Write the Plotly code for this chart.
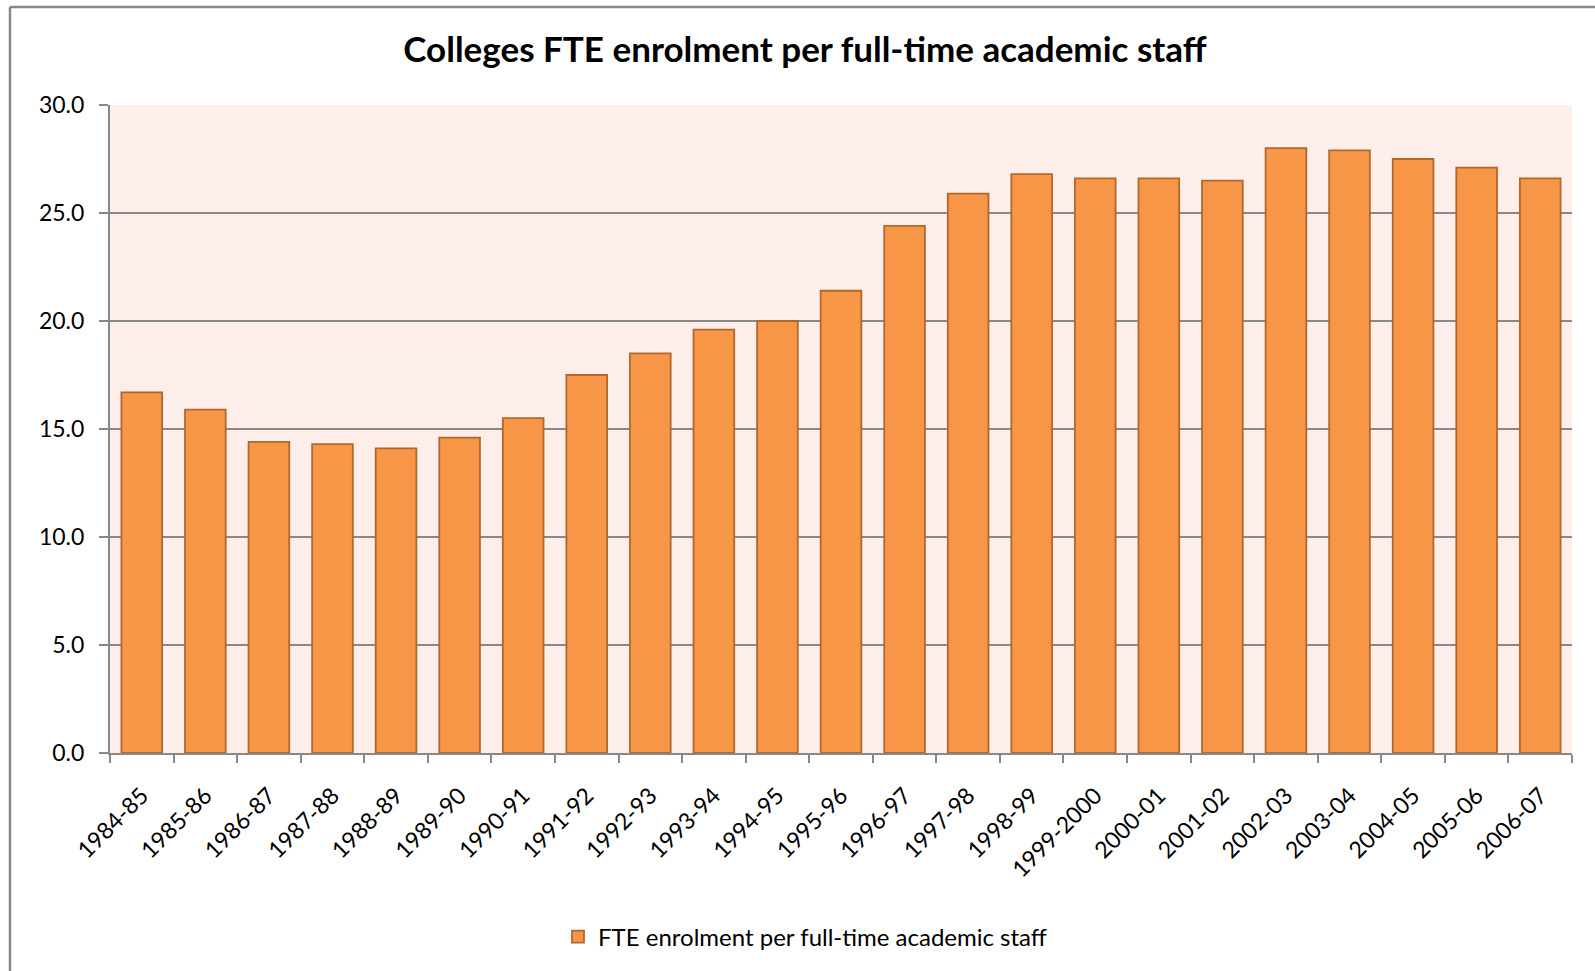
import plotly.graph_objects as go

categories = ["1984-85", "1985-86", "1986-87", "1987-88", "1988-89", "1989-90",
              "1990-91", "1991-92", "1992-93", "1993-94", "1994-95", "1995-96",
              "1996-97", "1997-98", "1998-99", "1999-2000", "2000-01", "2001-02",
              "2002-03", "2003-04", "2004-05", "2005-06", "2006-07"]
values = [16.7, 15.9, 14.4, 14.3, 14.1, 14.6, 15.5, 17.5, 18.5, 19.6, 20.0, 21.4,
          24.4, 25.9, 26.8, 26.6, 26.6, 26.5, 28.0, 27.9, 27.5, 27.1, 26.6]
y_ticks = [0, 5, 10, 15, 20, 25, 30]
y_tick_labels = ["0.0", "5.0", "10.0", "15.0", "20.0", "25.0", "30.0"]
series_name = "FTE enrolment per full-time academic staff"
title_text = "Colleges FTE enrolment per full-time academic staff"

W, H = 1595, 971
L, R, T, B = 110, 23, 105, 218
pw, ph = W - L - R, H - T - B

fig = go.Figure()
fig.add_trace(go.Bar(
    x=categories, y=values, name=series_name,
    marker=dict(color="#F79646", line=dict(color="#B0682C", width=1.8)),
    showlegend=True,
))

font_family = "Lato, 'Open Sans', sans-serif"
fig.update_layout(
    width=W, height=H,
    margin=dict(l=L, r=R, t=T, b=B),
    paper_bgcolor="white",
    plot_bgcolor="#FDEEEA",
    bargap=0.36,
    font=dict(family=font_family, size=22, color="black"),
    title=dict(text="<b>" + title_text + "</b>", x=(805 / W), xref="container", xanchor="center",
               y=1 - 50 / H, yref="container", yanchor="middle",
               font=dict(size=35, family=font_family)),
    showlegend=True,
    legend=dict(orientation="h", x=(805 - L) / pw, xanchor="center",
                y=-(937 - (T + ph)) / ph, yanchor="middle",
                font=dict(size=24), itemwidth=30),
    xaxis=dict(
        type="category", tickangle=-45, showline=True, linecolor="#888888", linewidth=2,
        ticks="outside", ticklen=8, tickcolor="#888888", tickwidth=2, tickson="boundaries",
        showgrid=False, tickfont=dict(size=23), range=[-0.5, len(categories) - 0.5],
        ticklabelstandoff=18,
    ),
    yaxis=dict(
        range=[0, 30], tickvals=y_ticks, ticktext=y_tick_labels,
        showline=True, linecolor="#888888", linewidth=2,
        ticks="outside", ticklen=9, tickcolor="#888888", tickwidth=2,
        showgrid=True, gridcolor="#888888", gridwidth=2, zeroline=False,
        tickfont=dict(size=23), ticklabelstandoff=10,
    ),
)

# outer chart border (top and left edges visible)
x_left = (10 - L) / pw
y_top = (T + ph - 7) / ph
y_bot = (T + ph - H) / ph
fig.add_shape(type="line", xref="paper", yref="paper", x0=x_left, x1=(W - L) / pw + 0.01,
              y0=y_top, y1=y_top, line=dict(color="#888888", width=2.5))
fig.add_shape(type="line", xref="paper", yref="paper", x0=x_left, x1=x_left,
              y0=y_top, y1=y_bot - 0.01, line=dict(color="#888888", width=2.5))

fig.write_html("out.html")
